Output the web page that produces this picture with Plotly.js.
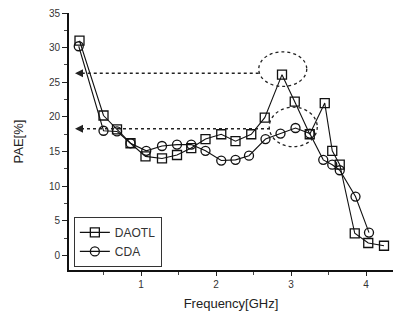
<!DOCTYPE html>
<html>
<head>
<meta charset="utf-8">
<script src="https://cdn.plot.ly/plotly-3.0.1.min.js"></script>
<style>html,body{margin:0;padding:0;background:#fff;}#chart{width:400px;height:320px;}</style>
</head>
<body>
<div id="chart"></div>
<script>
// Frequency (GHz) and PAE (%)
const daotlFreq = [0.18, 0.50, 0.68, 0.86, 1.06, 1.28, 1.48, 1.67, 1.86, 2.07, 2.26, 2.47, 2.65, 2.88, 3.05, 3.25, 3.45, 3.55, 3.65, 3.85, 4.03, 4.24];
const daotlPAE  = [31.0, 20.2, 18.2, 16.2, 14.3, 14.0, 14.5, 15.5, 16.8, 17.5, 16.5, 17.5, 19.9, 26.1, 22.2, 17.5, 22.0, 15.1, 13.1, 3.2, 1.8, 1.4];
const cdaFreq   = [0.17, 0.50, 0.68, 0.86, 1.07, 1.28, 1.48, 1.67, 1.86, 2.07, 2.26, 2.44, 2.66, 2.86, 3.06, 3.25, 3.43, 3.55, 3.65, 3.86, 4.04];
const cdaPAE    = [30.2, 18.0, 17.9, 16.2, 15.1, 15.8, 16.0, 16.0, 15.1, 13.7, 13.8, 14.4, 16.8, 17.6, 18.4, 17.6, 13.8, 13.1, 12.3, 8.5, 3.3];
const seriesNames = ["DAOTL", "CDA"];
const yTicks = [0, 5, 10, 15, 20, 25, 30, 35];
const xTicks = [1, 2, 3, 4];

// Highlighted peaks: dashed arrow level, arrow start/end frequency, ellipse bounds
const arrowLevels = [26.3, 18.3];
const arrowFrom   = [2.57, 2.72];
const arrowTo     = [0.12, 0.12];
const ellipseX0 = [2.57, 2.71];
const ellipseX1 = [3.21, 3.35];
const ellipseY0 = [24.4, 15.7];
const ellipseY1 = [29.4, 21.4];

const font = "Liberation Sans, Arial, sans-serif";

const traces = [
  {x: daotlFreq, y: daotlPAE, name: seriesNames[0], mode: "lines+markers", type: "scatter",
   line: {color: "#111", width: 1.1},
   marker: {symbol: "square-open", size: 9, color: "#111", line: {width: 1.3}}},
  {x: cdaFreq, y: cdaPAE, name: seriesNames[1], mode: "lines+markers", type: "scatter",
   line: {color: "#111", width: 1.1},
   marker: {symbol: "circle-open", size: 9, color: "#111", line: {width: 1.3}}}
];

const shapes = [];
const annotations = [];
for (let i = 0; i < arrowLevels.length; i++) {
  shapes.push({type: "line", xref: "x", yref: "y", x0: arrowFrom[i], x1: arrowTo[i] + 0.06,
    y0: arrowLevels[i], y1: arrowLevels[i], line: {color: "#222", width: 1.6, dash: "dot"}});
  annotations.push({x: arrowTo[i], y: arrowLevels[i], xref: "x", yref: "y", ax: 8, ay: 0,
    showarrow: true, arrowhead: 2, arrowsize: 1, arrowwidth: 1.6, arrowcolor: "#222", text: ""});
  shapes.push({type: "circle", xref: "x", yref: "y", x0: ellipseX0[i], x1: ellipseX1[i],
    y0: ellipseY0[i], y1: ellipseY1[i], line: {color: "#222", width: 1.3, dash: "dot"}});
}

const layout = {
  width: 400, height: 320,
  margin: {l: 69, r: 7, t: 13, b: 50},
  paper_bgcolor: "#fff", plot_bgcolor: "#fff",
  font: {family: font, color: "#333", size: 10},
  showlegend: true,
  legend: {x: 0.015, y: 0.012, xanchor: "left", yanchor: "bottom", bgcolor: "#fff",
    bordercolor: "#333", borderwidth: 1, font: {family: font, size: 12, color: "#333"},
    tracegroupgap: 0},
  xaxis: {
    range: [0.04, 4.36], tickvals: xTicks, ticktext: xTicks.map(String),
    ticks: "outside", ticklen: 4, tickwidth: 1, tickcolor: "#222",
    minor: {dtick: 0.5, ticks: "outside", ticklen: 3, tickcolor: "#444"},
    showline: true, linecolor: "#111", linewidth: 2, showgrid: false, zeroline: false,
    tickfont: {size: 10, color: "#333"},
    title: {text: "Frequency[GHz]", font: {size: 13, color: "#222", family: font}, standoff: 10}
  },
  yaxis: {
    range: [-2.1, 35], tickvals: yTicks, ticktext: yTicks.map(String),
    ticks: "outside", ticklen: 5, tickwidth: 1, tickcolor: "#222",
    minor: {dtick: 2.5, ticks: "outside", ticklen: 3, tickcolor: "#444"},
    showline: true, linecolor: "#111", linewidth: 2, showgrid: false, zeroline: false,
    tickfont: {size: 10, color: "#333"},
    title: {text: "PAE[%]", font: {size: 13, color: "#222", family: font}, standoff: 22}
  },
  shapes: shapes,
  annotations: annotations
};

Plotly.newPlot("chart", traces, layout, {displayModeBar: false, staticPlot: true});
</script>
</body>
</html>
